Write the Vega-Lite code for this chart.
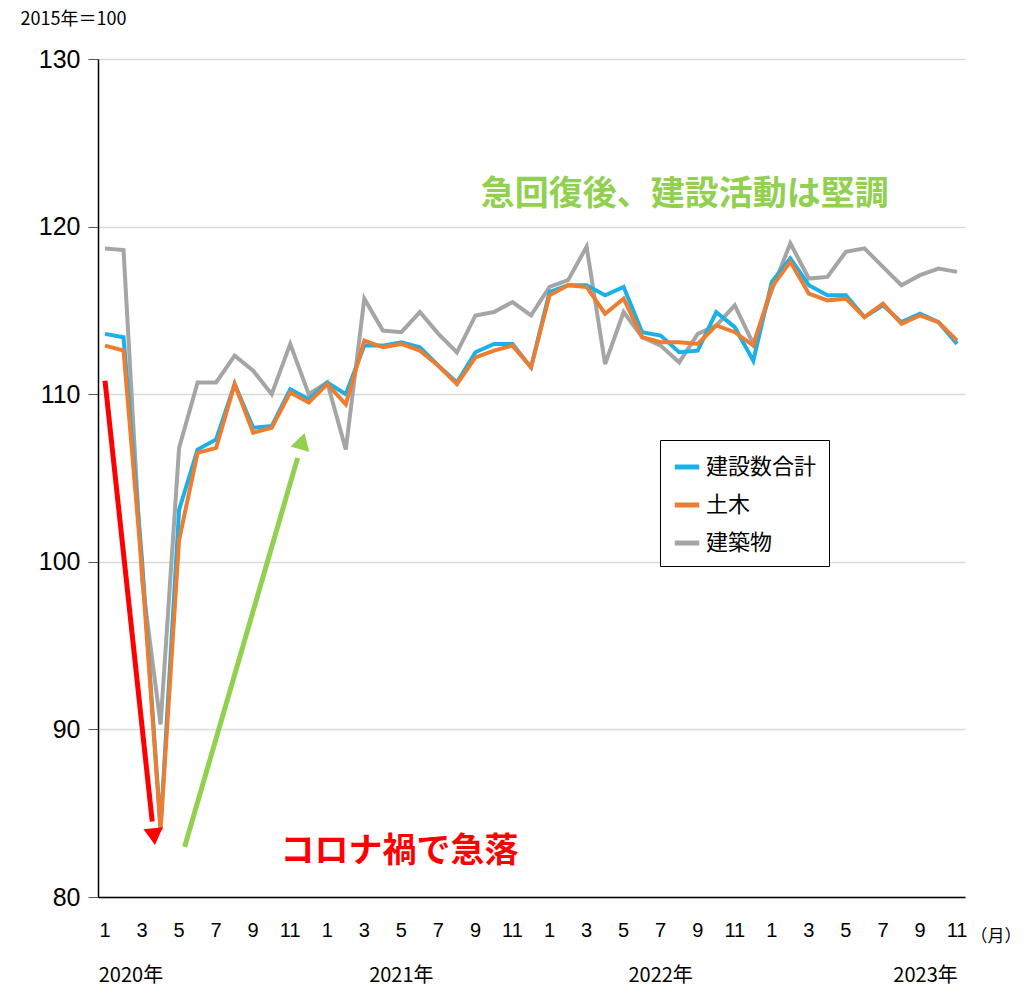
{
  "$schema": "https://vega.github.io/schema/vega-lite/v6.json",
  "autosize": "none",
  "width": 867,
  "height": 838,
  "padding": {"left": 98, "top": 59, "right": 66, "bottom": 100},
  "background": "white",
  "config": {"font": "Noto Sans CJK JP", "view": {"stroke": null}},
  "datasets": {
    "years": [
      {"t": 1.4, "label": "2020年"},
      {"t": 16.0, "label": "2021年"},
      {"t": 30.0, "label": "2022年"},
      {"t": 44.3, "label": "2023年"}
    ],
    "months": [
      {"t":0,"m":"1"},{"t":2,"m":"3"},{"t":4,"m":"5"},{"t":6,"m":"7"},{"t":8,"m":"9"},{"t":10,"m":"11"},
      {"t":12,"m":"1"},{"t":14,"m":"3"},{"t":16,"m":"5"},{"t":18,"m":"7"},{"t":20,"m":"9"},{"t":22,"m":"11"},
      {"t":24,"m":"1"},{"t":26,"m":"3"},{"t":28,"m":"5"},{"t":30,"m":"7"},{"t":32,"m":"9"},{"t":34,"m":"11"},
      {"t":36,"m":"1"},{"t":38,"m":"3"},{"t":40,"m":"5"},{"t":42,"m":"7"},{"t":44,"m":"9"},{"t":46,"m":"11"}
    ]
  },
  "data": {
    "values": [
      {"t":0,"総合":113.6,"土木":112.9,"建築":118.7},
      {"t":1,"総合":113.4,"土木":112.6,"建築":118.6},
      {"t":2,"総合":100.1,"土木":99.5,"建築":98.9},
      {"t":3,"総合":84.1,"土木":84.0,"建築":90.3},
      {"t":4,"総合":103.1,"土木":101.3,"建築":106.8},
      {"t":5,"総合":106.7,"土木":106.5,"建築":110.7},
      {"t":6,"総合":107.3,"土木":106.8,"建築":110.7},
      {"t":7,"総合":110.6,"土木":110.6,"建築":112.3},
      {"t":8,"総合":108.0,"土木":107.7,"建築":111.4},
      {"t":9,"総合":108.1,"土木":108.0,"建築":110.0},
      {"t":10,"総合":110.3,"土木":110.1,"建築":113.0},
      {"t":11,"総合":109.7,"土木":109.5,"建築":110.0},
      {"t":12,"総合":110.7,"土木":110.6,"建築":110.7},
      {"t":13,"総合":110.0,"土木":109.4,"建築":106.7},
      {"t":14,"総合":112.9,"土木":113.2,"建築":115.7},
      {"t":15,"総合":112.9,"土木":112.8,"建築":113.8},
      {"t":16,"総合":113.1,"土木":113.0,"建築":113.7},
      {"t":17,"総合":112.8,"土木":112.6,"建築":114.9},
      {"t":18,"総合":111.7,"土木":111.7,"建築":113.6},
      {"t":19,"総合":110.7,"土木":110.6,"建築":112.5},
      {"t":20,"総合":112.5,"土木":112.2,"建築":114.7},
      {"t":21,"総合":113.0,"土木":112.6,"建築":114.9},
      {"t":22,"総合":113.0,"土木":112.9,"建築":115.5},
      {"t":23,"総合":111.6,"土木":111.6,"建築":114.7},
      {"t":24,"総合":116.1,"土木":115.9,"建築":116.4},
      {"t":25,"総合":116.5,"土木":116.5,"建築":116.8},
      {"t":26,"総合":116.5,"土木":116.4,"建築":118.8},
      {"t":27,"総合":115.9,"土木":114.8,"建築":111.8},
      {"t":28,"総合":116.4,"土木":115.7,"建築":114.9},
      {"t":29,"総合":113.7,"土木":113.4,"建築":113.4},
      {"t":30,"総合":113.5,"土木":113.1,"建築":112.9},
      {"t":31,"総合":112.5,"土木":113.1,"建築":111.9},
      {"t":32,"総合":112.6,"土木":113.0,"建築":113.6},
      {"t":33,"総合":114.9,"土木":114.1,"建築":114.1},
      {"t":34,"総合":114.0,"土木":113.7,"建築":115.3},
      {"t":35,"総合":112.0,"土木":112.9,"建築":113.0},
      {"t":36,"総合":116.7,"土木":116.4,"建築":116.2},
      {"t":37,"総合":118.1,"土木":117.9,"建築":119.0},
      {"t":38,"総合":116.5,"土木":116.0,"建築":116.9},
      {"t":39,"総合":115.9,"土木":115.6,"建築":117.0},
      {"t":40,"総合":115.9,"土木":115.7,"建築":118.5},
      {"t":41,"総合":114.6,"土木":114.6,"建築":118.7},
      {"t":42,"総合":115.3,"土木":115.4,"建築":117.6},
      {"t":43,"総合":114.3,"土木":114.2,"建築":116.5},
      {"t":44,"総合":114.8,"土木":114.7,"建築":117.1},
      {"t":45,"総合":114.3,"土木":114.3,"建築":117.5},
      {"t":46,"総合":113.0,"土木":113.2,"建築":117.3}
    ]
  },
  "layer": [
    {
      "transform": [
        {"fold": ["建築", "総合", "土木"], "as": ["key", "value"]},
        {"calculate": "datum.key == '総合' ? '建設数合計' : datum.key == '土木' ? '土木' : '建築物'", "as": "系列"}
      ],
      "mark": {"type": "line", "strokeWidth": 4, "clip": false},
      "encoding": {
        "x": {
          "field": "t", "type": "quantitative",
          "scale": {"domain": [-0.378, 46.43], "nice": false, "zero": false},
          "axis": {
            "values": [], "labels": false,
            "ticks": false, "grid": false, "domainColor": "black", "domainWidth": 1.5, "title": null
          }
        },
        "y": {
          "field": "value", "type": "quantitative",
          "scale": {"domain": [80, 130], "nice": false, "zero": false},
          "axis": {
            "values": [80, 90, 100, 110, 120, 130],
            "labelFont": "Liberation Sans",
            "labelFontSize": 25, "labelColor": "black", "labelPadding": 8,
            "tickSize": 10, "tickColor": "#555",
            "gridColor": "#d9d9d9", "gridWidth": 1.5, "domainColor": "black", "domainWidth": 1.5,
            "title": "2015年＝100", "titleAngle": 0, "titleFontSize": 18, "titleFontWeight": "normal",
            "titleX": -78, "titleY": -40, "titleAlign": "left", "titleBaseline": "middle"
          }
        },
        "color": {
          "field": "系列", "type": "nominal",
          "scale": {"domain": ["建設数合計", "土木", "建築物"], "range": ["#1ab0e8", "#ed7d31", "#a5a5a5"]},
          "sort": ["建設数合計", "土木", "建築物"],
          "legend": {
            "orient": "none", "legendX": 562, "legendY": 381, "title": null,
            "symbolType": "stroke", "symbolStrokeWidth": 5, "symbolSize": 600,
            "labelFontSize": 22, "labelColor": "black", "rowPadding": 12,
            "strokeColor": "black", "padding": 12, "fillColor": "white"
          }
        },
        "order": {"field": "key", "sort": "ascending"}
      }
    },
    {
      "data": {"values": [
        {"t": 0, "v": 110.8, "t2": 2.55, "v2": 84.5, "c": "red"},
        {"t": 4.3, "v": 83.0, "t2": 10.4, "v2": 106.2, "c": "#92d050"}
      ]},
      "mark": {"type": "rule", "strokeWidth": 5},
      "encoding": {
        "x": {"field": "t", "type": "quantitative"},
        "y": {"field": "v", "type": "quantitative"},
        "x2": {"field": "t2"},
        "y2": {"field": "v2"},
        "color": {"field": "c", "type": "nominal", "scale": null}
      }
    },
    {
      "data": {"values": [
        {"t": 2.65, "v": 83.6, "c": "red", "a": 174},
        {"t": 10.65, "v": 107.2, "c": "#92d050", "a": 16}
      ]},
      "mark": {"type": "point", "shape": "triangle-up", "filled": true, "size": 380, "opacity": 1},
      "encoding": {
        "x": {"field": "t", "type": "quantitative"},
        "y": {"field": "v", "type": "quantitative"},
        "angle": {"field": "a", "type": "quantitative", "scale": null},
        "color": {"field": "c", "type": "nominal", "scale": null}
      }
    },
    {
      "data": {"values": [
        {"t": 31.3, "v": 121.9, "label": "急回復後、建設活動は堅調", "c": "#92d050"},
        {"t": 15.9, "v": 82.7, "label": "コロナ禍で急落", "c": "red"}
      ]},
      "mark": {"type": "text", "fontSize": 34, "fontWeight": "bold"},
      "encoding": {
        "x": {"field": "t", "type": "quantitative"},
        "y": {"field": "v", "type": "quantitative"},
        "text": {"field": "label"},
        "color": {"field": "c", "type": "nominal", "scale": null}
      }
    },
    {
      "data": {"name": "months"},
      "mark": {"type": "text", "fontSize": 20, "font": "Liberation Sans", "clip": false},
      "encoding": {
        "x": {"field": "t", "type": "quantitative"},
        "y": {"datum": 78.0},
        "text": {"field": "m"}
      }
    },
    {
      "data": {"name": "years"},
      "mark": {"type": "text", "fontSize": 20, "clip": false},
      "encoding": {
        "x": {"field": "t", "type": "quantitative"},
        "y": {"datum": 75.3},
        "text": {"field": "label"}
      }
    },
    {
      "data": {"values": [{"t": 48.1, "label": "（月）"}]},
      "mark": {"type": "text", "fontSize": 17, "clip": false},
      "encoding": {
        "x": {"field": "t", "type": "quantitative"},
        "y": {"datum": 77.6},
        "text": {"field": "label"}
      }
    }
  ]
}
